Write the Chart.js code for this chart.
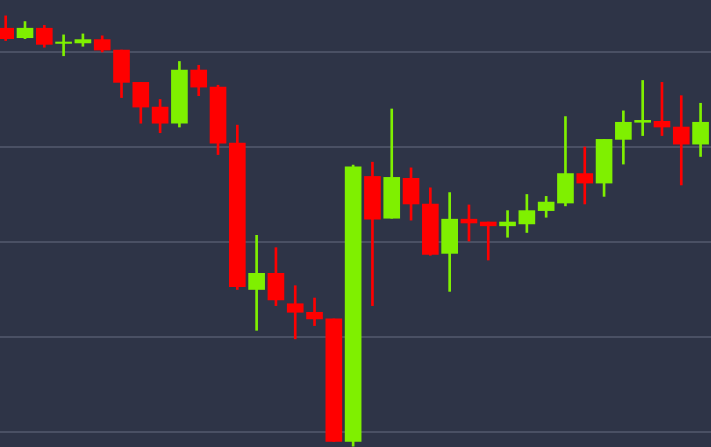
<!DOCTYPE html>
<html>
<head>
<meta charset="utf-8">
<script src="https://cdn.jsdelivr.net/npm/chart.js@4/dist/chart.umd.min.js"></script>
<style>
    html, body { margin: 0; padding: 0; background: #2e3447; }
    #wrap { width: 711px; height: 447px; position: relative; }
</style>
</head>
<body>
<div id="wrap"><canvas id="candles"></canvas></div>
<script>
// OHLC values
const opens  = [4025, 4015, 4025, 4009, 4009.5, 4013, 4002, 3968, 3942, 3925, 3981, 3963, 3904, 3750, 3767, 3735, 3726, 3719, 3590, 3869, 3825, 3867, 3840, 3788, 3824, 3821, 3817, 3819, 3833, 3841, 3872, 3862, 3908, 3926, 3927, 3921, 3903];
const highs  = [4038, 4032, 4028, 4018, 4019, 4017, 4002, 3968, 3950, 3990, 3986, 3965, 3923, 3807, 3794, 3754, 3741, 3719, 3881, 3884, 3940, 3878, 3857, 3852, 3839, 3821, 3833, 3850, 3848, 3932, 3900, 3908, 3938, 3970, 3968, 3954, 3946];
const lows   = [4012, 4014, 4005, 3996, 4006, 4000, 3952, 3925, 3915, 3921, 3954, 3892, 3750, 3707, 3733, 3698, 3712, 3590, 3585, 3733, 3825, 3823, 3786, 3748, 3801, 3781, 3805, 3810, 3826, 3838, 3840, 3848, 3882, 3912, 3912, 3860, 3890];
const closes = [4014, 4025, 4008, 4010.5, 4013, 4002, 3968, 3942, 3925, 3981, 3963, 3904, 3753, 3767, 3739, 3726, 3719, 3590, 3879, 3824, 3868, 3840, 3787, 3824, 3820, 3817, 3821, 3833, 3842, 3872, 3862, 3908, 3926, 3928, 3921, 3903, 3926];
const gridValues = [3600, 3700, 3800, 3900, 4000];

const UP = '#7ff000';
const DOWN = '#ff0000';

const bodies = opens.map((o, i) => ({ x: i, y: [o, closes[i]] }));
const wicks = highs.map((h, i) => ({ x: i, y: [lows[i], h] }));
const colorOf = (i) => closes[i] >= opens[i] ? UP : DOWN;

const ctx = document.getElementById('candles').getContext('2d');
const chart = new Chart(ctx, {
    type: 'bar',
    data: {
        datasets: [
            {
                label: 'body',
                data: bodies,
                backgroundColor: (c) => colorOf(c.dataIndex),
                barThickness: 16,
                grouped: false,
                order: 0
            },
            {
                label: 'wick',
                data: wicks,
                backgroundColor: (c) => colorOf(c.dataIndex),
                barThickness: 2,
                grouped: false,
                order: 1
            }
        ]
    },
    options: {
        responsive: true,
        maintainAspectRatio: false,
        animation: false,
        layout: { padding: 0 },
        scales: {
            x: {
                type: 'linear',
                display: false,
                offset: false,
                min: -0.295,
                max: 36.54
            },
            y: {
                min: 3584.2,
                max: 4054.7,
                border: { display: false },
                grid: { color: '#4a5064', lineWidth: 2, drawTicks: false },
                ticks: { display: false },
                afterBuildTicks: (axis) => {
                    axis.ticks = gridValues.map(v => ({ value: v }));
                }
            }
        },
        plugins: {
            legend: { display: false },
            tooltip: { enabled: false }
        }
    }
});
</script>
</body>
</html>
